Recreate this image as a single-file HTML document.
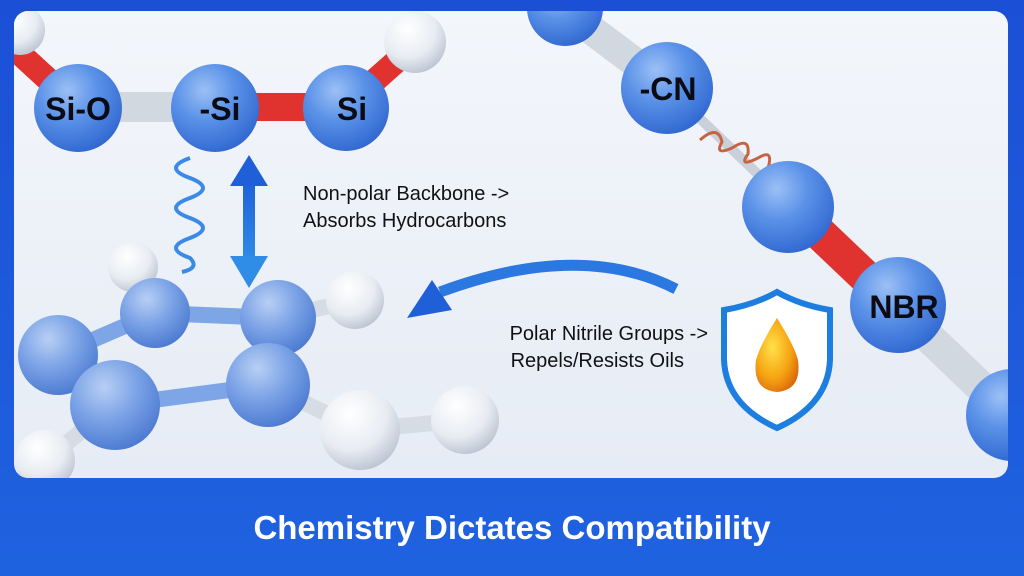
<!DOCTYPE html>
<html><head><meta charset="utf-8"><style>
html,body{margin:0;padding:0;width:1024px;height:576px;overflow:hidden;background:#1a55d8}
svg{display:block}
text{font-family:"Liberation Sans",sans-serif}
</style></head><body>
<svg width="1024" height="576" viewBox="0 0 1024 576">
<defs>
<linearGradient id="bg" x1="0" y1="0" x2="0" y2="1"><stop offset="0" stop-color="#1b50d6"/><stop offset="1" stop-color="#1f62e0"/></linearGradient>
<linearGradient id="pn" x1="0" y1="0" x2="0" y2="1"><stop offset="0" stop-color="#f3f6fb"/><stop offset="1" stop-color="#e6ecf5"/></linearGradient>
<radialGradient id="b" cx="0.38" cy="0.3" r="0.75"><stop offset="0" stop-color="#9cc0f5"/><stop offset="0.45" stop-color="#5b92e8"/><stop offset="1" stop-color="#2f66d0"/></radialGradient>
<radialGradient id="lb" cx="0.38" cy="0.3" r="0.75"><stop offset="0" stop-color="#b8cff4"/><stop offset="0.5" stop-color="#7aa2e6"/><stop offset="1" stop-color="#4a78d0"/></radialGradient>
<radialGradient id="w" cx="0.38" cy="0.3" r="0.75"><stop offset="0" stop-color="#ffffff"/><stop offset="0.6" stop-color="#e8ecf2"/><stop offset="1" stop-color="#b9c2d0"/></radialGradient>
<radialGradient id="oil" cx="0.4" cy="0.4" r="0.7"><stop offset="0" stop-color="#ffe14a"/><stop offset="0.6" stop-color="#f6a312"/><stop offset="1" stop-color="#d8650a"/></radialGradient>
<linearGradient id="arr" x1="0" y1="0" x2="0" y2="1"><stop offset="0" stop-color="#1f5fd8"/><stop offset="1" stop-color="#2f8de8"/></linearGradient>
<clipPath id="c"><rect x="14" y="11" width="994" height="467" rx="14"/></clipPath>
</defs>
<rect width="1024" height="576" fill="url(#bg)"/>
<rect x="14" y="11" width="994" height="467" rx="14" fill="url(#pn)"/>
<g clip-path="url(#c)">
<g stroke-linecap="butt">
<line x1="5" y1="40" x2="78" y2="107" stroke="#e0322e" stroke-width="24"/>
<line x1="78" y1="107" x2="215" y2="107" stroke="#d2d8e0" stroke-width="30"/>
<line x1="215" y1="107" x2="345" y2="107" stroke="#e0322e" stroke-width="28"/>
<line x1="345" y1="107" x2="418" y2="42" stroke="#e0322e" stroke-width="24"/>
</g>
<circle cx="415" cy="42" r="31" fill="url(#w)"/>
<circle cx="20" cy="30" r="25" fill="url(#w)"/>
<circle cx="78" cy="108" r="44" fill="url(#b)"/>
<circle cx="215" cy="108" r="44" fill="url(#b)"/>
<circle cx="346" cy="108" r="43" fill="url(#b)"/>
<text x="78" y="120" font-size="32" font-weight="bold" text-anchor="middle" fill="#0b0b14">Si-O</text>
<text x="220" y="120" font-size="32" font-weight="bold" text-anchor="middle" fill="#0b0b14">-Si</text>
<text x="352" y="120" font-size="32" font-weight="bold" text-anchor="middle" fill="#0b0b14">Si</text>
<line x1="565" y1="10" x2="665" y2="85" stroke="#d2d8e0" stroke-width="30"/>
<line x1="665" y1="85" x2="790" y2="205" stroke="#c9d0da" stroke-width="10"/>
<line x1="790" y1="205" x2="895" y2="305" stroke="#e0322e" stroke-width="34"/>
<line x1="895" y1="305" x2="1005" y2="410" stroke="#d2d8e0" stroke-width="32"/>
<circle cx="565" cy="8" r="38" fill="url(#b)"/>
<circle cx="667" cy="88" r="46" fill="url(#b)"/>
<path d="M700 140 q18 -16 22 2 q-8 14 10 6 q18 -12 16 6 q-10 14 10 4 q16 -10 10 10" fill="none" stroke="#c7643f" stroke-width="3"/>
<circle cx="788" cy="207" r="46" fill="url(#b)"/>
<circle cx="898" cy="305" r="48" fill="url(#b)"/>
<circle cx="1012" cy="415" r="46" fill="url(#b)"/>
<text x="668" y="100" font-size="32" font-weight="bold" text-anchor="middle" fill="#0b0b14">-CN</text>
<text x="904" y="318" font-size="32" font-weight="bold" text-anchor="middle" fill="#0b0b14">NBR</text>
<g stroke-width="16">
<line x1="133" y1="267" x2="155" y2="313" stroke="#d6dce4"/>
<line x1="278" y1="318" x2="355" y2="300" stroke="#d6dce4"/>
<line x1="268" y1="385" x2="360" y2="430" stroke="#d6dce4"/>
<line x1="360" y1="430" x2="465" y2="420" stroke="#d6dce4"/>
<line x1="115" y1="405" x2="45" y2="460" stroke="#d6dce4"/>
<line x1="155" y1="313" x2="278" y2="318" stroke="#7ea6e6"/>
<line x1="278" y1="318" x2="268" y2="385" stroke="#7ea6e6"/>
<line x1="268" y1="385" x2="115" y2="405" stroke="#7ea6e6"/>
<line x1="115" y1="405" x2="58" y2="355" stroke="#7ea6e6"/>
<line x1="58" y1="355" x2="155" y2="313" stroke="#7ea6e6"/>
</g>
<circle cx="133" cy="267" r="25" fill="url(#w)"/>
<circle cx="355" cy="300" r="29" fill="url(#w)"/>
<circle cx="465" cy="420" r="34" fill="url(#w)"/>
<circle cx="360" cy="430" r="40" fill="url(#w)"/>
<circle cx="45" cy="460" r="30" fill="url(#w)"/>
<circle cx="155" cy="313" r="35" fill="url(#lb)"/>
<circle cx="278" cy="318" r="38" fill="url(#lb)"/>
<circle cx="58" cy="355" r="40" fill="url(#lb)"/>
<circle cx="268" cy="385" r="42" fill="url(#lb)"/>
<circle cx="115" cy="405" r="45" fill="url(#lb)"/>
</g>
<path d="M190 158 q-28 10 0 20 q26 10 0 20 q-28 10 0 20 q26 10 0 20 q-28 10 0 20 q10 10 -8 14" fill="none" stroke="#3a8ae6" stroke-width="4"/>
<rect x="243" y="178" width="12" height="86" fill="url(#arr)"/>
<polygon points="249,155 268,186 230,186" fill="#1f5fd8"/>
<polygon points="249,288 268,256 230,256" fill="#2f8de8"/>
<text x="303" y="200" font-size="20" fill="#111">Non-polar Backbone -&gt;</text>
<text x="303" y="227" font-size="20" fill="#111">Absorbs Hydrocarbons</text>
<path d="M676 289 Q580 240 440 292" fill="none" stroke="#2a78e0" stroke-width="11"/>
<polygon points="407,318 432,280 452,310" fill="#1f5fd8"/>
<text x="708" y="340" font-size="20" text-anchor="end" fill="#111">Polar Nitrile Groups -&gt;</text>
<text x="684" y="367" font-size="20" text-anchor="end" fill="#111">Repels/Resists Oils</text>
<path d="M777 292 Q800 305 830 310 L830 360 Q828 405 777 428 Q726 405 724 360 L724 310 Q754 305 777 292Z" fill="#fff" stroke="#1e7ee0" stroke-width="6"/>
<path d="M777 318 Q760 345 756 360 Q752 390 777 392 Q802 390 798 360 Q794 345 777 318Z" fill="url(#oil)"/>
<text x="512" y="539" font-size="33" font-weight="bold" text-anchor="middle" fill="#fff">Chemistry Dictates Compatibility</text>
</svg>
</body></html>
